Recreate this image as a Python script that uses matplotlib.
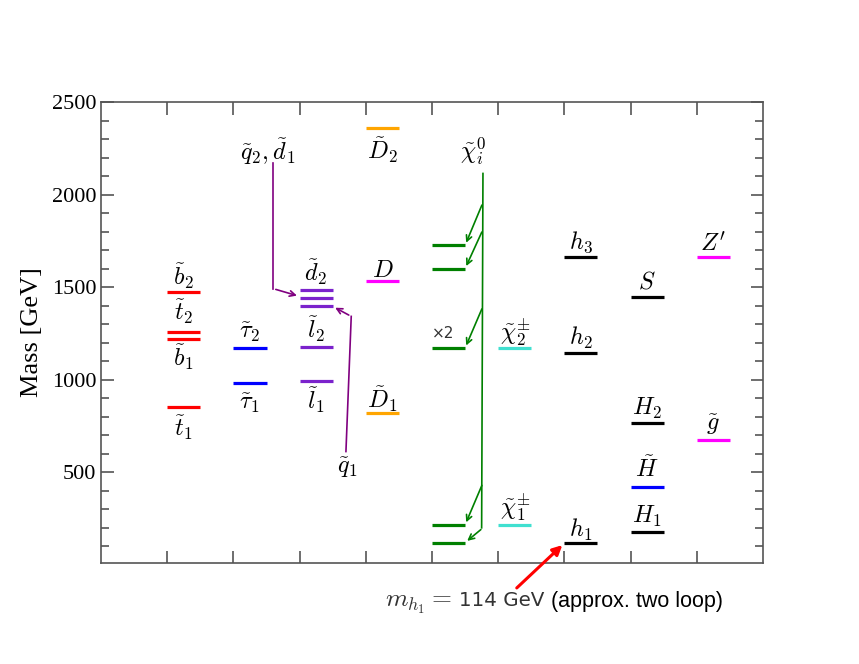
import matplotlib
matplotlib.use("Agg")

import matplotlib.pyplot as plt
from matplotlib.ticker import MultipleLocator

plt.rcParams['mathtext.fontset'] = 'cm'

# masses [GeV] per column of the spectrum
columnas = [1, 2, 3, 4, 5, 6, 7, 8, 9]

masas_stop_sbottom = [1475, 1260, 1220, 850]
etiquetas_stop_sbottom = [r'$\tilde{b}_2$', r'$\tilde{t}_2$', r'$\tilde{b}_1$', r'$\tilde{t}_1$']

masas_stau = [1171, 982]
etiquetas_stau = [r'$\tilde{\tau}_2$', r'$\tilde{\tau}_1$']

masas_squark_slepton = [1486, 1441, 1396, 1175, 991]
etiquetas_squark_slepton = [r'$\tilde{d}_2$', '', '', r'$\tilde{l}_2$', r'$\tilde{l}_1$']

masas_exoticos = [2360, 1531, 820]
etiquetas_exoticos = [r'$\tilde{D}_2$', r'$D$', r'$\tilde{D}_1$']

masas_neutralinos = [1726, 1600, 1171, 216, 120]

masas_charginos = [1171, 216]
etiquetas_charginos = [r'$\tilde{\chi}_2^{\pm}$', r'$\tilde{\chi}_1^{\pm}$']

masas_higgs_cp_par = [1661, 1144, 117]
etiquetas_higgs_cp_par = [r'$h_3$', r'$h_2$', r'$h_1$']

masas_singlete = [1445, 766, 423, 180]
etiquetas_singlete = [r'$S$', r'$H_2$', r'$\tilde{H}$', r'$H_1$']

masas_zprima = [1661, 676]
etiquetas_zprima = [r"$Z'$", r'$\tilde{g}$']

# (masses, labels, colours, label offset in px: + above, - below)
grupos = [
    (masas_stop_sbottom, etiquetas_stop_sbottom, ['red'] * 4, [16, 20, -18, -20]),
    (masas_stau, etiquetas_stau, ['#0000ff'] * 2, [16, -20]),
    (masas_squark_slepton, etiquetas_squark_slepton, ['#7b22cc'] * 5, [18, 0, 0, 18, -19]),
    (masas_exoticos, etiquetas_exoticos, ['#ffa500', '#ff00ff', '#ffa500'], [-22, 11, 14]),
    (masas_neutralinos, [''] * 5, ['#008000'] * 5, [0] * 5),
    (masas_charginos, etiquetas_charginos, ['#40e0d0'] * 2, [16, 18]),
    (masas_higgs_cp_par, etiquetas_higgs_cp_par, ['black'] * 3, [15, 15, 13]),
    (masas_singlete, etiquetas_singlete, ['black', 'black', '#0000ff', 'black'], [16, 15, 17, 15]),
    (masas_zprima, etiquetas_zprima, ['#ff00ff'] * 2, [14, 15]),
]

fig = plt.figure(figsize=(8.59, 6.64), dpi=100)
ax = fig.add_axes([0.1176, 0.1521, 0.7706, 0.6943])

ancho = 0.5
tam = 17.5
for col, (masas, etiquetas, colores, desplaz) in zip(columnas, grupos):
    for m, et, c, d in zip(masas, etiquetas, colores, desplaz):
        ax.plot([col, col + ancho], [m, m], color=c, lw=2.3, solid_capstyle='butt')
        if et:
            ax.annotate(et, xy=(col + ancho / 2, m), xytext=(0, d),
                        textcoords='offset pixels', ha='center', va='center',
                        fontsize=tam)

# squark arrows
morado = '#800080'
ax.text(2.52, 2232, r'$\tilde{q}_2,\tilde{d}_1$', ha='center', va='center', fontsize=tam)
ax.plot([2.6, 2.6], [2173, 1492], color=morado, lw=1.2)
ax.annotate('', xy=(3.0, 1450), xytext=(2.6, 1492),
            arrowprops=dict(arrowstyle='->', color=morado, lw=1.2))
ax.text(3.73, 525, r'$\tilde{q}_1$', ha='center', va='center', fontsize=tam)
ax.plot([3.70, 3.78], [612, 1342], color=morado, lw=1.2)
ax.annotate('', xy=(3.5, masas_squark_slepton[2]), xytext=(3.78, 1342),
            arrowprops=dict(arrowstyle='->', color=morado, lw=1.2))

# neutralino arrows
verde = '#008000'
ax.text(5.62, 2235, r'$\tilde{\chi}_i^0$', ha='center', va='center', fontsize=tam)
ax.plot([5.77, 5.75], [2114, 200], color=verde, lw=1.2)
inicios = [1957, 1811, 1396, 443, 200]
for m, y0 in zip(masas_neutralinos, inicios):
    ax.annotate('', xy=(5 + ancho, m), xytext=(5.77, y0),
                arrowprops=dict(arrowstyle='->', color=verde, lw=1.2))
ax.annotate(u'\u00d72', xy=(5, masas_neutralinos[2]), xytext=(0, 15),
            textcoords='offset pixels', ha='left', va='center',
            fontsize=11, family='DejaVu Sans', color='#333333')

# lightest higgs arrow
ax.annotate('', xy=(7, masas_higgs_cp_par[2]), xytext=(6.25, -135),
            annotation_clip=False,
            arrowprops=dict(arrowstyle='-|>', color='red', lw=2.2, mutation_scale=14))
fig.text(385 / 859, 1 - 603 / 664, r'$m_{h_1} =$',
         ha='left', va='center', fontsize=18.5, color='#333333')
fig.text(459 / 859, 1 - 601 / 664, '114 GeV',
         ha='left', va='center', fontsize=14.3, family='DejaVu Sans', color='#333333')
fig.text(551 / 859, 1 - 601 / 664, '(approx. two loop)', ha='left', va='center',
         fontsize=15.5, family='Liberation Sans', color='black')

ax.set_xlim(0, 10)
ax.set_ylim(10, 2500)
ax.set_xticks(columnas)
ax.set_xticklabels([])
ax.set_yticks([500, 1000, 1500, 2000, 2500])
ax.yaxis.set_minor_locator(MultipleLocator(100))
ax.tick_params(which='both', direction='in', top=True, right=True,
               color='#555555', width=1.2)
ax.tick_params(which='major', length=9)
ax.tick_params(which='minor', length=5.5)
ax.tick_params(axis='x', which='minor', top=False, bottom=False)
for lab in ax.get_yticklabels():
    lab.set_family('Liberation Serif')
    lab.set_fontsize(16)
for s in ax.spines.values():
    s.set_color('#555555')
    s.set_linewidth(1.2)
ax.set_ylabel('Mass [GeV]', family='Liberation Serif', fontsize=19, labelpad=6)

plt.savefig("out.png")
print("Grafica guardada como out.png")
